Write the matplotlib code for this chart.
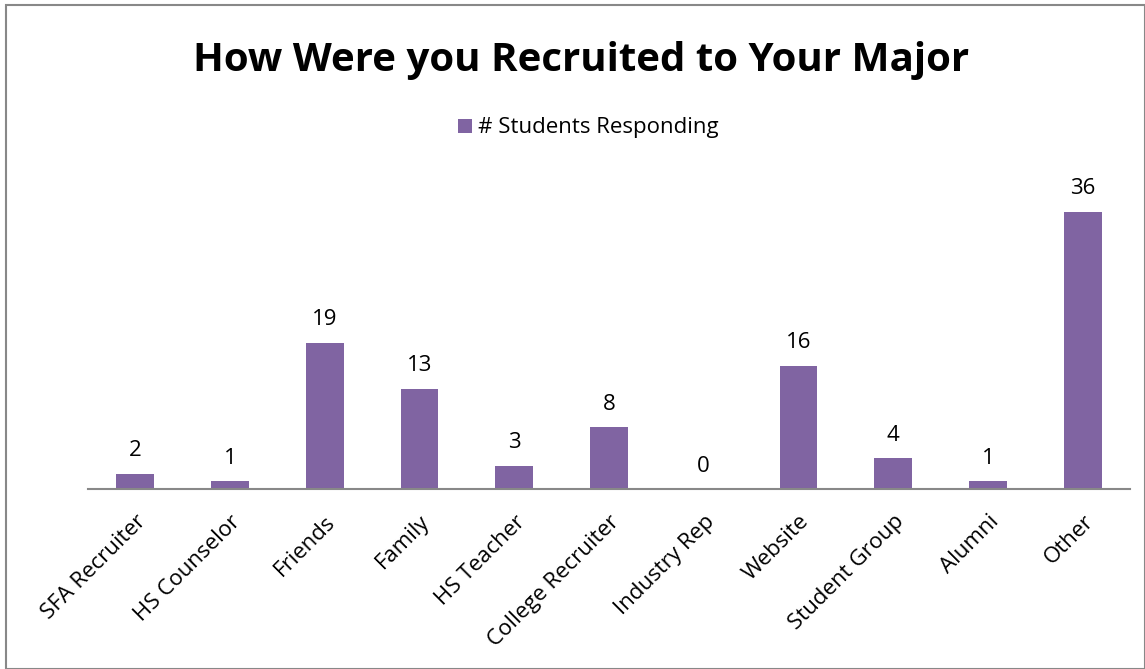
import matplotlib.pyplot as plt
from matplotlib.patches import Rectangle

# data
categories = ["SFA Recruiter", "HS Counselor", "Friends", "Family", "HS Teacher",
              "College Recruiter", "Industry Rep", "Website", "Student Group",
              "Alumni", "Other"]
responses = [2, 1, 19, 13, 3, 8, 0, 16, 4, 1, 36]

purple = "#8064A2"
plt.rcParams['font.family'] = ['Open Sans', 'DejaVu Sans']

fig = plt.figure(figsize=(11.45, 6.69), dpi=100)
ax = fig.add_axes([88 / 1145, 1 - 489 / 669, 1042 / 1145, 308 / 669])

x = range(len(categories))
bars = ax.bar(x, responses, width=0.40, color=purple, label="# Students Responding")

for xi, v in zip(x, responses):
    ax.annotate(str(v), (xi, v), xytext=(0, 9), textcoords='offset points',
                ha='center', va='bottom', fontsize=16)

ax.set_xlim(-0.5, len(categories) - 0.5)
ax.set_ylim(0, 40)
ax.set_xticks(list(x))
ax.set_xticklabels(categories, rotation=45, ha='right', rotation_mode='anchor', fontsize=16)
ax.tick_params(axis='x', length=0, pad=16)
ax.set_yticks([])
for s in ['top', 'right', 'left']:
    ax.spines[s].set_visible(False)
ax.spines['bottom'].set_color('#888888')
ax.spines['bottom'].set_linewidth(1.5)

fig.text(581 / 1145, 1 - 71 / 669, "How Were you Recruited to Your Major", ha='center', va='baseline',
         fontsize=29, fontweight='bold')

fig.legend(handles=[bars], loc='center', bbox_to_anchor=(0.514, 1 - 128 / 669), frameon=False,
           fontsize=16, handlelength=0.6, handleheight=0.6, handletextpad=0.3)

# chart border
fig.patches.append(Rectangle((6 / 1145, 0), 1 - 6 / 1145, 1 - 5 / 669, transform=fig.transFigure,
                             fill=False, edgecolor='#888888', linewidth=1.5))

fig.savefig("out.png", dpi=100)
